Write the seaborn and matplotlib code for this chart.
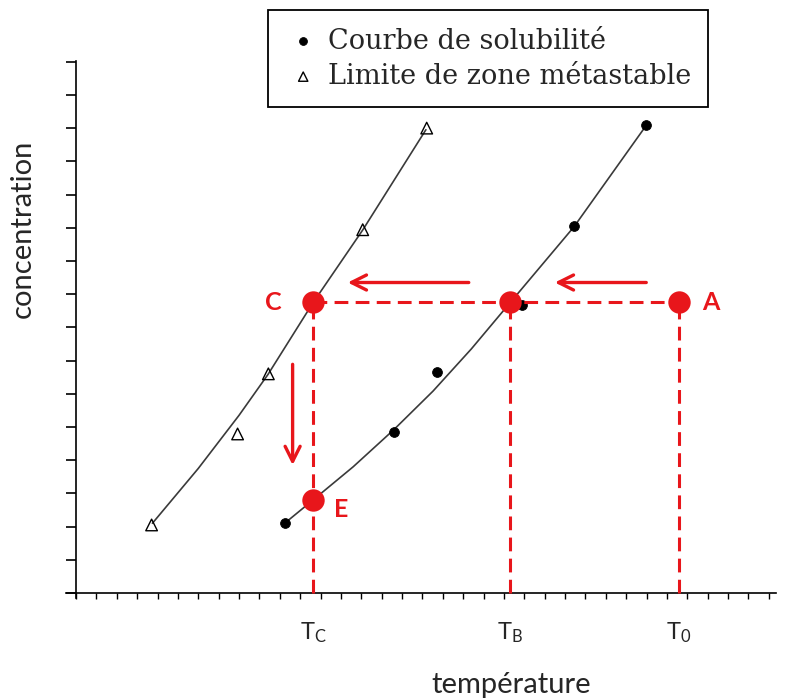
import matplotlib
matplotlib.use("Agg")
import matplotlib.pyplot as plt
import seaborn as sns

# solubility curve (filled dots) and the smooth line drawn through them
sol_t = [10.26, 15.60, 17.70, 21.88, 24.44, 27.97]
sol_c = [2.11, 4.85, 6.67, 8.68, 11.04, 14.08]
sol_curve_t = [10.26, 11.63, 13.60, 15.60, 17.52, 19.40, 21.30, 24.44, 27.97]
sol_curve_c = [2.11, 2.80, 3.80, 4.92, 6.08, 7.35, 8.74, 11.03, 14.07]

# metastable zone limit (open triangles) and its line
meta_t = [3.71, 7.93, 9.44, 14.07, 17.21]
meta_c = [2.05, 4.79, 6.60, 10.94, 14.00]
meta_curve_t = [3.75, 6.00, 8.00, 9.42, 11.63, 14.08, 17.17]
meta_curve_c = [2.10, 3.75, 5.35, 6.58, 8.74, 10.94, 13.95]

# state points of the cooling path
temp_names = ["$T_C$", "$T_B$", "$T_0$"]
temps = [11.63, 21.30, 29.59]          # T_C, T_B, T_0
c_level = 8.75                          # concentration of A, B, C
c_E = 2.80                              # concentration of E
point_names = ["A", "C", "E"]

sns.set_theme(style="white")
plt.rcParams["font.family"] = ["Lato", "DejaVu Sans"]
plt.rcParams["mathtext.default"] = "regular"

red = "#e8161b"
fig = plt.figure(figsize=(7.85, 7.0), dpi=100)
ax = fig.add_axes([66 / 785, 102 / 700, 710 / 785, 537 / 700])

# curves
sns.lineplot(x=sol_curve_t, y=sol_curve_c, sort=False, estimator=None,
             color="#3a3a3a", lw=1.2, ax=ax)
sns.lineplot(x=meta_curve_t, y=meta_curve_c, sort=False, estimator=None,
             color="#3a3a3a", lw=1.2, ax=ax)
sns.scatterplot(x=sol_t, y=sol_c, color="black", s=50, edgecolor="black",
                label="Courbe de solubilité", ax=ax, zorder=3)
sns.scatterplot(x=meta_t, y=meta_c, marker="^", s=70, facecolor="none",
                edgecolor="black", linewidth=1.0,
                label="Limite de zone métastable", ax=ax, zorder=3)

# dashed construction lines
dash = dict(color=red, lw=2.2, dashes=(4.5, 2.4), zorder=4)
ax.plot([temps[0], temps[2]], [c_level, c_level], **dash)
for t in temps:
    ax.plot([t, t], [0, c_level], **dash)

# red state points
ax.scatter([temps[2], temps[1], temps[0], temps[0]],
           [c_level, c_level, c_level, c_E],
           s=260, color=red, zorder=5, linewidths=0)

# arrows
arrow = dict(arrowstyle="->,head_length=0.9,head_width=0.45", color=red, lw=2.4)
ax.annotate("", xy=(13.20, 9.35), xytext=(19.41, 9.35), arrowprops=arrow)
ax.annotate("", xy=(23.36, 9.35), xytext=(28.12, 9.35), arrowprops=arrow)
ax.annotate("", xy=(10.63, 3.77), xytext=(10.63, 6.97), arrowprops=arrow)

# point labels
lab = dict(color=red, fontsize=18, fontweight="bold", va="center", ha="center")
ax.text(31.14, c_level, point_names[0], **lab)
ax.text(9.67, c_level, point_names[1], **lab)
ax.text(13.0, 2.50, point_names[2], **lab)

# axes
ax.set_xlim(-0.49, 34.35)
ax.set_ylim(-0.15, 16.02)
ax.spines["left"].set_position(("data", 0))
ax.spines["bottom"].set_position(("data", 0))
ax.spines["top"].set_visible(False)
ax.spines["right"].set_visible(False)
for s in ("left", "bottom"):
    ax.spines[s].set_color("black")
    ax.spines[s].set_linewidth(1.2)

ax.set_xticks(temps)
ax.set_xticklabels(temp_names, fontsize=17)
ax.set_xticks(range(0, 35), minor=True)
ax.tick_params(axis="x", which="major", length=0, pad=20)
ax.tick_params(axis="x", which="minor", direction="out", length=4,
               width=1.0, color="black", bottom=True)
ax.set_yticks(range(0, 17))
ax.set_yticklabels([])
ax.tick_params(axis="y", which="major", direction="out", length=7,
               width=1.2, color="black", left=True)

ax.set_xlabel("température", fontsize=21)
ax.set_ylabel("concentration", fontsize=21)
ax.xaxis.set_label_coords((511 - 66) / 710, (598 - 672) / 537)
ax.yaxis.set_label_coords((36 - 66) / 710, (598 - 229) / 537)

leg = ax.legend(loc="upper left", bbox_to_anchor=(268 / 785, 1 - 10 / 700),
                bbox_transform=fig.transFigure, borderaxespad=0,
                fancybox=False, framealpha=1, edgecolor="black",
                prop={"family": "DejaVu Serif", "size": 19.5},
                handlelength=1.3, handletextpad=0.25, borderpad=0.65,
                labelspacing=0.3, markerscale=0.8)
leg.get_frame().set_linewidth(1.3)

fig.savefig("out.png", dpi=100)
